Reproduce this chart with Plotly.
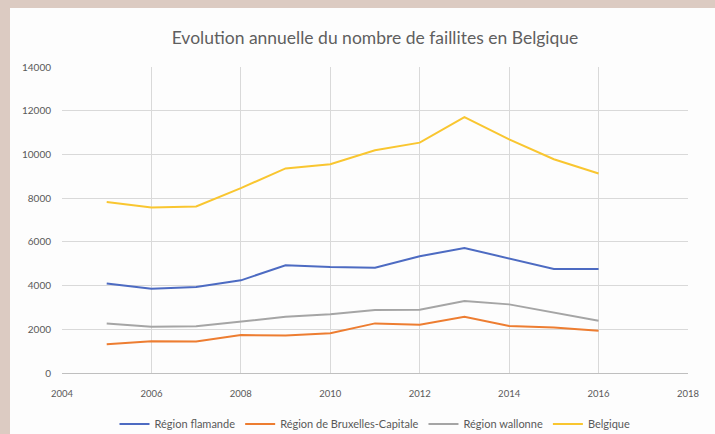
import plotly.graph_objects as go

years = [2005, 2006, 2007, 2008, 2009, 2010, 2011, 2012, 2013, 2014, 2015, 2016]
flamande = [4100, 3850, 3930, 4240, 4930, 4850, 4820, 5340, 5720, 5230, 4760, 4760]
bruxelles = [1320, 1450, 1440, 1740, 1710, 1820, 2270, 2210, 2570, 2150, 2080, 1930]
wallonne = [2270, 2120, 2140, 2340, 2570, 2690, 2880, 2890, 3290, 3140, 2760, 2390]
belgique = [7820, 7570, 7620, 8460, 9360, 9550, 10190, 10540, 11710, 10690, 9780, 9130]

series = [
    ("Région flamande", flamande, "#4d6bc2"),
    ("Région de Bruxelles-Capitale", bruxelles, "#ed7d31"),
    ("Région wallonne", wallonne, "#a5a5a5"),
    ("Belgique", belgique, "#f9c630"),
]

fig = go.Figure()
for name, vals, col in series:
    fig.add_trace(go.Scatter(x=years, y=vals, name=name, mode="lines",
                             line=dict(color=col, width=2)))

W, H = 715, 434
ml, mr, mt, mb = 62, 27, 67, 61
pw, ph = W - ml - mr, H - mt - mb

beige = "#dccbc2"
fig.add_shape(type="rect", xref="paper", yref="paper",
              x0=-ml / pw, x1=(W - ml) / pw, y0=1 + (mt - 8) / ph, y1=1 + mt / ph,
              fillcolor=beige, line_width=0, layer="below")
fig.add_shape(type="rect", xref="paper", yref="paper",
              x0=-ml / pw, x1=(10 - ml) / pw, y0=-mb / ph, y1=1 + mt / ph,
              fillcolor=beige, line_width=0, layer="below")

fig.update_layout(
    width=W, height=H,
    margin=dict(l=ml, r=mr, t=mt, b=mb, autoexpand=False),
    paper_bgcolor="#fdfdfd", plot_bgcolor="#fdfdfd",
    font=dict(family="Lato, Open Sans, sans-serif", color="#595959"),
    title=dict(text="Evolution annuelle du nombre de faillites en Belgique",
               x=0.5, xref="paper", xanchor="center", y=1 - 38 / H, yanchor="middle",
               font=dict(size=17.5, color="#5f5f5f")),
    showlegend=True,
    legend=dict(orientation="h", x=0.5, xanchor="center", xref="paper",
                yref="container", y=1 - 424 / H, yanchor="middle",
                font=dict(size=11, color="#595959"), bgcolor="rgba(0,0,0,0)",
                itemwidth=30),
)
fig.update_xaxes(range=[2004, 2018], dtick=2, tick0=2004, showgrid=True,
                 gridcolor="#d9d9d9", gridwidth=1, zeroline=False,
                 showline=True, linecolor="#bfbfbf", linewidth=1,
                 ticks="", tickfont=dict(size=9.5, color="#595959"), ticklabelstandoff=12)
fig.update_yaxes(range=[0, 14000], dtick=2000, tickformat="d", showgrid=True,
                 gridcolor="#d9d9d9", gridwidth=1, zeroline=False,
                 showline=False, ticks="", tickfont=dict(size=10, color="#595959"),
                 ticklabelstandoff=10)

fig.write_html("out.html", config={"displayModeBar": False})
with open("out.html", encoding="utf-8") as f:
    html = f.read()
html = html.replace("<head>", "<head><style>html,body{margin:0;padding:0;overflow:hidden}</style>", 1)
with open("out.html", "w", encoding="utf-8") as f:
    f.write(html)
